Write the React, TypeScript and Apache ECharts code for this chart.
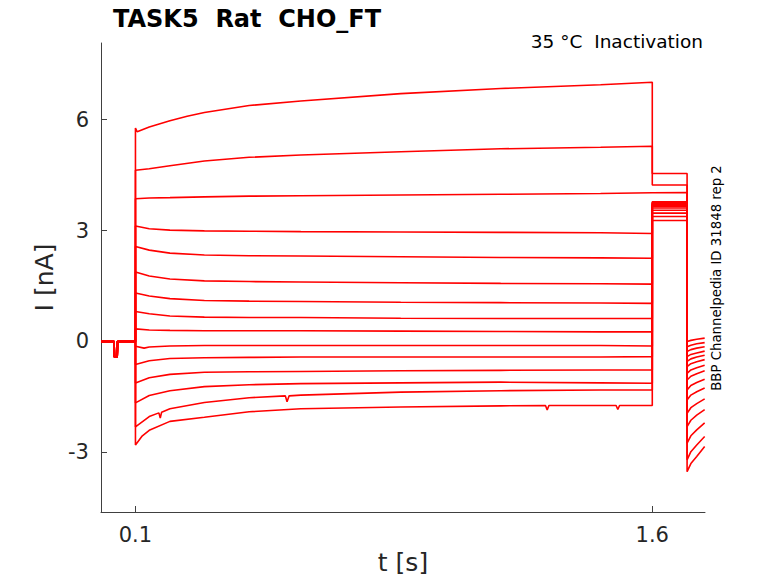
import React, { useEffect, useRef } from "react";
import * as echarts from "echarts";

// holding segment before the step (t < 0.1 s), shared by all sweeps
const BASELINE: [number, number][] = [
  [0, 0], [0.038, 0], [0.039, -0.42], [0.047, -0.42], [0.048, 0], [0.1, 0],
];

// current during the 1.5 s conditioning step, one list per sweep [t, I]
const STEP_1: [number, number][] = [[0.1, 5.77], [0.105, 5.67], [0.14, 5.8], [0.2, 5.97], [0.25, 6.09], [0.3, 6.19], [0.43, 6.38], [0.58, 6.5], [0.87, 6.7], [1.16, 6.84], [1.45, 6.94], [1.6, 7.01]];
const STEP_2: [number, number][] = [[0.1, 4.63], [0.14, 4.67], [0.2, 4.75], [0.3, 4.88], [0.43, 4.98], [0.58, 5.04], [0.87, 5.13], [1.16, 5.21], [1.45, 5.25], [1.6, 5.28]];
const STEP_3: [number, number][] = [[0.1, 3.86], [0.14, 3.88], [0.2, 3.89], [0.3, 3.91], [0.43, 3.93], [0.58, 3.94], [0.87, 3.96], [1.16, 3.98], [1.45, 4.0], [1.6, 4.02]];
const STEP_4: [number, number][] = [[0.1, 3.12], [0.14, 3.05], [0.2, 3.01], [0.3, 2.99], [0.43, 2.98], [0.58, 2.97], [0.87, 2.96], [1.16, 2.95], [1.45, 2.94], [1.6, 2.92]];
const STEP_5: [number, number][] = [[0.1, 2.57], [0.14, 2.47], [0.2, 2.39], [0.3, 2.34], [0.43, 2.32], [0.58, 2.31], [0.87, 2.29], [1.16, 2.27], [1.45, 2.26], [1.6, 2.25]];
const STEP_6: [number, number][] = [[0.1, 1.88], [0.14, 1.77], [0.2, 1.69], [0.3, 1.64], [0.43, 1.62], [0.58, 1.61], [0.87, 1.59], [1.16, 1.57], [1.45, 1.56], [1.6, 1.55]];
const STEP_7: [number, number][] = [[0.1, 1.31], [0.14, 1.23], [0.2, 1.16], [0.3, 1.11], [0.43, 1.09], [0.58, 1.08], [0.87, 1.06], [1.16, 1.05], [1.45, 1.04], [1.6, 1.03]];
const STEP_8: [number, number][] = [[0.1, 0.81], [0.14, 0.75], [0.2, 0.69], [0.3, 0.66], [0.43, 0.65], [0.58, 0.65], [0.87, 0.63], [1.16, 0.62], [1.45, 0.62], [1.6, 0.62]];
const STEP_9: [number, number][] = [[0.1, 0.34], [0.14, 0.31], [0.2, 0.3], [0.3, 0.29], [0.43, 0.29], [0.58, 0.29], [0.87, 0.28], [1.16, 0.27], [1.45, 0.26], [1.6, 0.26]];
const STEP_10: [number, number][] = [[0.1, -0.13], [0.125, -0.18], [0.14, -0.15], [0.2, -0.12], [0.3, -0.11], [0.58, -0.11], [0.87, -0.11], [1.16, -0.11], [1.45, -0.11], [1.6, -0.12]];
const STEP_11: [number, number][] = [[0.1, -0.62], [0.14, -0.52], [0.2, -0.46], [0.3, -0.44], [0.43, -0.43], [0.58, -0.42], [0.87, -0.42], [1.16, -0.42], [1.45, -0.42], [1.6, -0.41]];
const STEP_12: [number, number][] = [[0.1, -1.12], [0.14, -0.98], [0.2, -0.89], [0.3, -0.83], [0.43, -0.82], [0.58, -0.81], [0.87, -0.79], [1.16, -0.78], [1.45, -0.77], [1.6, -0.77]];
const STEP_13: [number, number][] = [[0.1, -1.66], [0.14, -1.46], [0.2, -1.33], [0.3, -1.22], [0.43, -1.17], [0.58, -1.14], [0.87, -1.12], [1.16, -1.1], [1.45, -1.12], [1.6, -1.13]];
const STEP_14: [number, number][] = [[0.1, -2.31], [0.14, -2.03], [0.168, -1.93], [0.172, -2.07], [0.176, -1.91], [0.2, -1.82], [0.3, -1.65], [0.43, -1.52], [0.535, -1.47], [0.54, -1.63], [0.546, -1.47], [0.58, -1.45], [0.87, -1.37], [1.16, -1.33], [1.45, -1.31], [1.6, -1.31]];
const STEP_15: [number, number][] = [[0.1, -2.8], [0.12, -2.55], [0.14, -2.4], [0.2, -2.16], [0.3, -2.05], [0.43, -1.9], [0.58, -1.82], [0.87, -1.77], [1.16, -1.74], [1.29, -1.73], [1.295, -1.85], [1.3, -1.73], [1.45, -1.73], [1.495, -1.73], [1.5, -1.84], [1.505, -1.73], [1.6, -1.73]];

const STEPS = [STEP_1, STEP_2, STEP_3, STEP_4, STEP_5, STEP_6, STEP_7, STEP_8, STEP_9, STEP_10, STEP_11, STEP_12, STEP_13, STEP_14, STEP_15];

// test pulse 1.6 - 1.701 s (flat level per sweep)
const TEST_START = 1.6;
const TEST_END = 1.701;
const TEST_LEVELS = [4.54, 4.23, 4.03, 3.78, 3.76, 3.74, 3.72, 3.7, 3.68, 3.65, 3.61, 3.55, 3.47, 3.38, 3.27];

// tail currents after the test pulse
const TAIL_TIMES = [1.701, 1.712, 1.729, 1.752];
const TAILS = [
  [-3.52, -3.3, -3.11, -2.84],
  [-3.2, -2.98, -2.8, -2.57],
  [-2.75, -2.55, -2.39, -2.2],
  [-2.3, -2.13, -1.99, -1.84],
  [-1.94, -1.79, -1.68, -1.55],
  [-1.58, -1.45, -1.36, -1.26],
  [-1.31, -1.19, -1.11, -1.02],
  [-1.04, -0.94, -0.87, -0.79],
  [-0.86, -0.77, -0.71, -0.64],
  [-0.68, -0.6, -0.55, -0.49],
  [-0.54, -0.47, -0.42, -0.37],
  [-0.41, -0.35, -0.31, -0.26],
  [-0.27, -0.22, -0.18, -0.14],
  [-0.14, -0.1, -0.06, -0.03],
  [0.0, 0.03, 0.06, 0.09],
];

const X_TICKS = [0.1, 1.6];
const Y_TICKS = [-3, 0, 3, 6];

const FONT = '"DejaVu Sans", "Liberation Sans", sans-serif';
const AXIS_COLOR = "#404040";
const TEXT_COLOR = "#262626";

const App: React.FC = () => {
  const chartRef = useRef<HTMLDivElement>(null);

  useEffect(() => {
    if (!chartRef.current) return;
    const chart = echarts.init(chartRef.current, undefined, { renderer: "svg" });

    const series = STEPS.map((step, i) => {
      const tail = TAIL_TIMES.map((t, k) => [t, TAILS[i][k]]);
      return {
        type: "line",
        showSymbol: false,
        silent: true,
        lineStyle: { color: "#ff0000", width: 1.6 },
        data: [
          ...BASELINE,
          ...step,
          [TEST_START, TEST_LEVELS[i]],
          [TEST_END, TEST_LEVELS[i]],
          ...tail,
        ],
      };
    });

    chart.setOption({
      animation: false,
      grid: {
        left: 101,
        right: 73,
        top: 43,
        bottom: 71,
        containLabel: false,
        outerBoundsMode: "none",
      },
      xAxis: {
        type: "value",
        min: 0,
        max: 1.753,
        name: "t [s]",
        nameLocation: "middle",
        nameGap: 38,
        nameTextStyle: { fontFamily: FONT, fontSize: 25, color: TEXT_COLOR },
        axisLine: { show: true, onZero: false, lineStyle: { color: AXIS_COLOR, width: 1 } },
        axisTick: {
          show: true,
          inside: true,
          length: 6,
          customValues: X_TICKS,
          lineStyle: { color: AXIS_COLOR },
        },
        axisLabel: {
          customValues: X_TICKS,
          margin: 12,
          fontFamily: FONT,
          fontSize: 21,
          color: TEXT_COLOR,
          formatter: (v: number) => String(v),
        },
        splitLine: { show: false },
      },
      yAxis: {
        type: "value",
        min: -4.61,
        max: 8.07,
        name: "I [nA]",
        nameLocation: "middle",
        nameGap: 40,
        nameTextStyle: { fontFamily: FONT, fontSize: 25, color: TEXT_COLOR },
        axisLine: { show: true, onZero: false, lineStyle: { color: AXIS_COLOR, width: 1 } },
        axisTick: {
          show: true,
          inside: true,
          length: 6,
          customValues: Y_TICKS,
          lineStyle: { color: AXIS_COLOR },
        },
        axisLabel: {
          customValues: Y_TICKS,
          margin: 12,
          fontFamily: FONT,
          fontSize: 21,
          color: TEXT_COLOR,
          formatter: (v: number) => String(v),
        },
        splitLine: { show: false },
      },
      graphic: [
        {
          type: "text",
          x: 113,
          y: 19,
          style: {
            text: "TASK5  Rat  CHO_FT",
            font: `bold 24px ${FONT}`,
            fill: "#000",
            verticalAlign: "middle",
          },
        },
        {
          type: "text",
          x: 703,
          y: 41,
          style: {
            text: "35 °C  Inactivation",
            font: `18.5px ${FONT}`,
            fill: "#000",
            align: "right",
            verticalAlign: "middle",
          },
        },
        {
          type: "text",
          x: 716,
          y: 278,
          rotation: Math.PI / 2,
          style: {
            text: "BBP Channelpedia ID 31848 rep 2",
            font: `13.3px ${FONT}`,
            fill: "#000",
            align: "center",
            verticalAlign: "middle",
          },
        },
      ],
      series,
    });

    return () => chart.dispose();
  }, []);

  return (
    <div
      ref={chartRef}
      style={{ position: "fixed", left: 0, top: 0, width: 778, height: 583, background: "#fff" }}
    />
  );
};

export default App;
